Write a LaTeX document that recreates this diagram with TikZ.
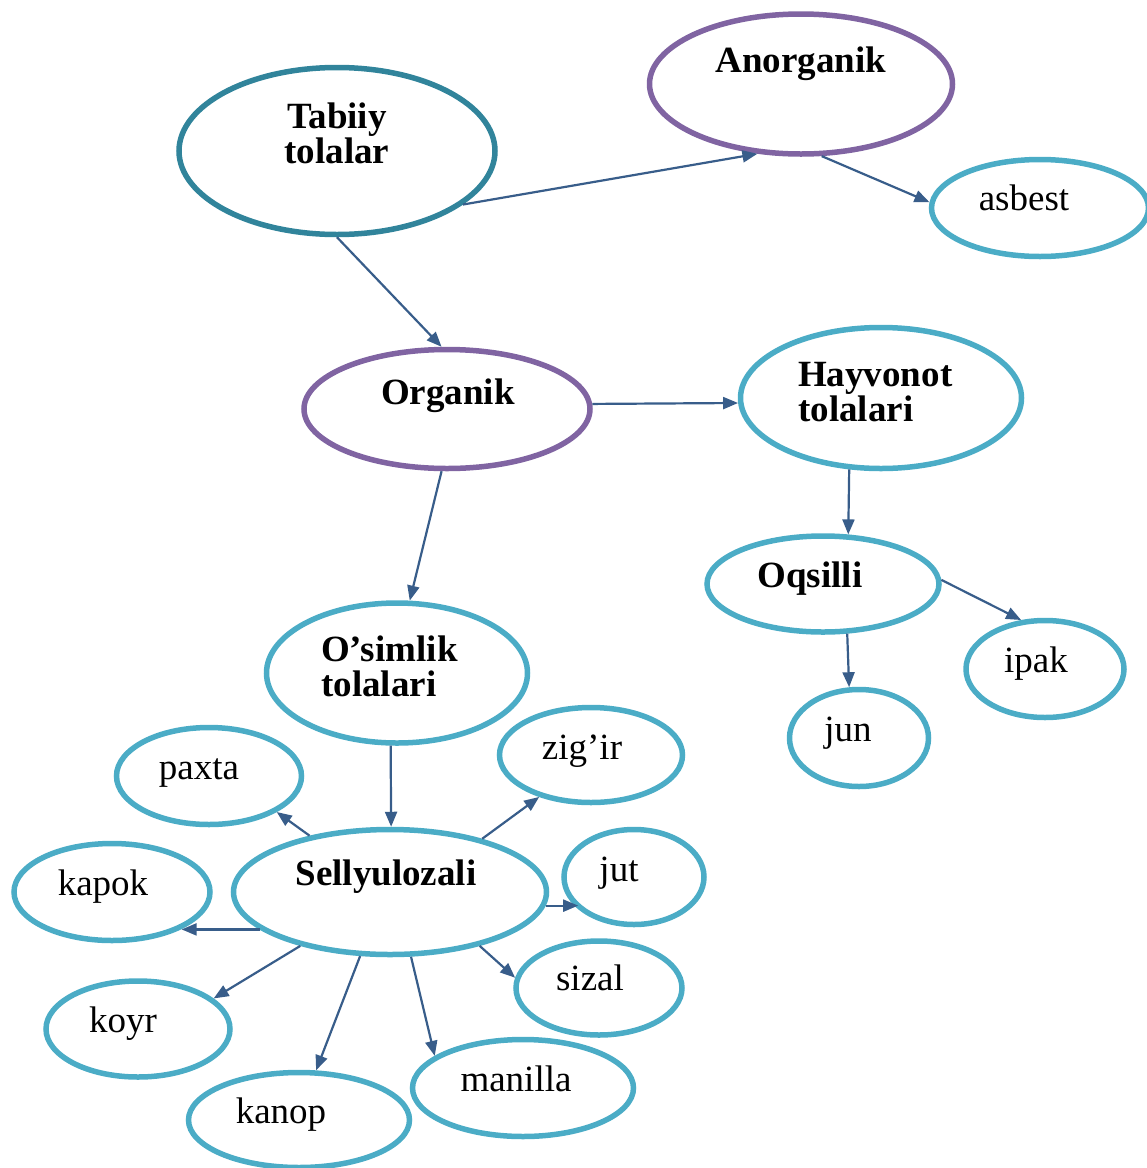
\documentclass[tikz,border=0pt]{standalone}
\usepackage{fontspec}
\setmainfont{Liberation Serif}
\usetikzlibrary{shapes.geometric,arrows.meta}
\definecolor{tealc}{HTML}{31849B}
\definecolor{purpc}{HTML}{8064A2}
\definecolor{lbluec}{HTML}{4BACC6}
\definecolor{arrc}{HTML}{385D8A}
\begin{document}
\begin{tikzpicture}[x=1pt,y=-1pt,
  ell/.style={ellipse,draw,line width=5.5pt,inner sep=0pt},
  lb/.style={ell,draw=lbluec},
  pu/.style={ell,draw=purpc},
  tl/.style={ell,draw=tealc},
  lbl/.style={inner sep=0pt,anchor=base,yshift=-2pt,font=\fontsize{37}{34}\selectfont},
  blbl/.style={lbl,font=\fontsize{37}{34}\selectfont\bfseries},
  conn/.style={draw=arrc,line width=2.2pt,-{Triangle[length=15pt,width=12pt]}}]
\useasboundingbox (0,0) rectangle (1147,1168);
\clip (0,0) rectangle (1147,1168);
% ellipses
\node[tl,minimum width=316pt,minimum height=167pt] (tab) at (337,151) {};
\node[pu,minimum width=303pt,minimum height=140pt] (ano) at (801,84) {};
\node[lb,minimum width=217pt,minimum height=97pt] (asb) at (1040,208) {};
\node[pu,minimum width=286pt,minimum height=119pt] (org) at (447,409) {};
\node[lb,minimum width=281pt,minimum height=141pt] (hay) at (881,398) {};
\node[lb,minimum width=232pt,minimum height=96pt] (oqs) at (823,584) {};
\node[lb,minimum width=158pt,minimum height=97pt] (ipa) at (1045,669) {};
\node[lb,minimum width=139pt,minimum height=97pt] (jun) at (859,738) {};
\node[lb,minimum width=261pt,minimum height=140pt] (osi) at (397,673) {};
\node[lb,minimum width=185pt,minimum height=97pt] (pax) at (209,776) {};
\node[lb,minimum width=183pt,minimum height=95pt] (zig) at (591,755) {};
\node[lb,minimum width=313pt,minimum height=125pt] (sel) at (390,892) {};
\node[lb,minimum width=140pt,minimum height=95pt] (jut) at (634,877) {};
\node[lb,minimum width=196pt,minimum height=97pt] (kap) at (112,892) {};
\node[lb,minimum width=166pt,minimum height=94pt] (siz) at (599,988) {};
\node[lb,minimum width=184pt,minimum height=96pt] (koy) at (138,1029) {};
\node[lb,minimum width=221pt,minimum height=97pt] (man) at (523,1088) {};
\node[lb,minimum width=221pt,minimum height=95pt] (kan) at (299,1120) {};
% texts
\node[blbl] (tabT) at (337,126) {\begin{tabular}[t]{@{}c@{}}Tabiiy\\tolalar\end{tabular}};
\node[blbl] (anoT) at (801,70) {Anorganik};
\node[lbl] (asbT) at (1024,208) {asbest};
\node[blbl] (orgT) at (448,402) {Organik};
\node[blbl,anchor=base west] (hayT) at (798,384) {\begin{tabular}[t]{@{}l@{}}Hayvonot\\tolalari\end{tabular}};
\node[blbl] (oqsT) at (810,585) {Oqsilli};
\node[lbl] (ipaT) at (1036,670) {ipak};
\node[lbl] (junT) at (848,739) {jun};
\node[blbl,anchor=base west] (osiT) at (321,659) {\begin{tabular}[t]{@{}l@{}}O’simlik\\tolalari\end{tabular}};
\node[lbl] (paxT) at (199,777) {paxta};
\node[lbl] (zigT) at (582,757) {zig’ir};
\node[blbl] (selT) at (386,883) {Sellyulozali};
\node[lbl] (jutT) at (619,879) {jut};
\node[lbl] (kapT) at (103,893) {kapok};
\node[lbl] (sizT) at (590,988) {sizal};
\node[lbl] (koyT) at (123,1030) {koyr};
\node[lbl] (manT) at (516,1089) {manilla};
\node[lbl] (kanT) at (281,1121) {kanop};
% connectors
\draw[conn] (tab.-23) -- (ano.-122);
\draw[conn] (ano.-74) -- (asb.177);
\draw[conn] (tab.-90) -- (org.95);
\draw[conn] (org.2) -- (hay.182);
\draw[conn] (org.-95.5) -- (osi.80);
\draw[conn] (hay.-114) -- (oqs.63);
\draw[conn] (oqs.2) -- (ipa.116);
\draw[conn] (oqs.-64) -- (jun.101);
\draw[conn] (osi.-95) -- (sel.89);
\draw[conn] (sel.145.6) -- (pax.-28.5);
\draw[conn] (sel.30.8) -- (zig.-141.5);
\draw[conn] (sel.-5.5) -- (sel.-5.5 -| jut.-150);
\draw[conn] (sel.-164.7) -- (sel.-164.7 -| kap.-28.6);
\draw[conn] (sel.-149.6) -- (koy.22.2);
\draw[conn] (sel.-115.5) -- (kan.71.2);
\draw[conn] (sel.-72.1) -- (man.160);
\draw[conn] (sel.-31.3) -- (siz.173.2);
\end{tikzpicture}
\end{document}
